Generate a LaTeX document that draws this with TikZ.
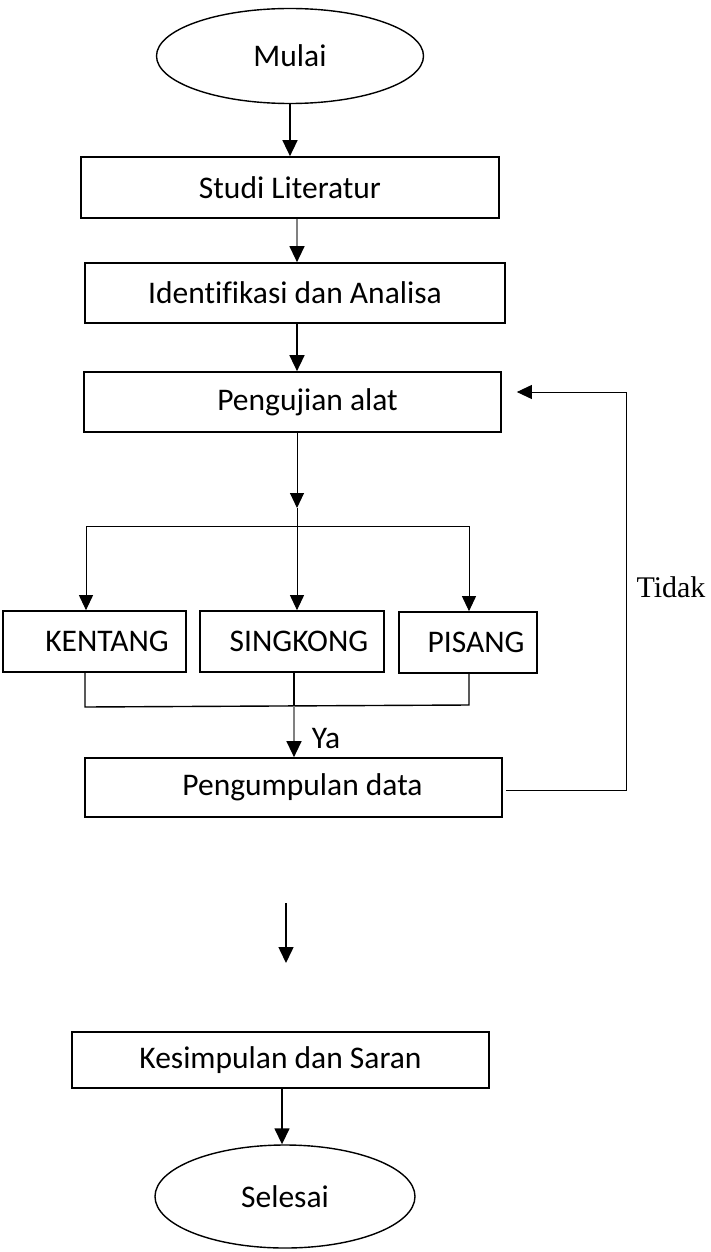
\documentclass[tikz,border=0pt]{standalone}
\usepackage{fontspec}
\setmainfont{Carlito}[Ligatures=NoCommon]
\newfontfamily\seriffont{Liberation Serif}
\usetikzlibrary{shapes.geometric,arrows.meta}

\begin{document}
\begin{tikzpicture}[x=1pt,y=-1pt,
        font=\fontsize{31.5}{36}\selectfont,
        kotak/.style={draw,line width=1.7pt,rectangle,inner sep=0pt},
        oval/.style={draw,line width=1.4pt,ellipse,inner sep=0pt},
        panah/.style={line width=1.5pt,-{Triangle[length=16pt,width=15pt]}},
        panahabu/.style={line width=1.3pt,draw=gray,-{Triangle[length=16pt,width=15pt,color=black]}},
        tipis/.style={line width=1pt},
        panahtipis/.style={line width=1pt,-{Triangle[length=15pt,width=14pt]}}]
    \useasboundingbox (0,0) rectangle (710,1252);

    % Mulai
    \node[oval,minimum width=267pt,minimum height=95pt] (mulai) at (290,56) {Mulai};

    % Tahap
    \node[kotak,minimum width=418pt,minimum height=61pt] (studi) at (290,187.5) {Studi Literatur};
    \node[kotak,minimum width=420pt,minimum height=60pt] (identifikasi) at (295,293) {Identifikasi dan Analisa};
    \node[kotak,minimum width=417pt,minimum height=60pt] (pengujian) at (292.5,402) {\hspace*{30pt}Pengujian alat};

    \draw[panah] (mulai.south) -- (mulai.south |- studi.north);
    \draw[panahabu] ([xshift=7pt]studi.south) -- ([xshift=7pt]studi.south |- identifikasi.north);
    \draw[panah] ([xshift=2pt]identifikasi.south) -- ([xshift=2pt]identifikasi.south |- pengujian.north);

    % Cabang
    \node[kotak,minimum width=183pt,minimum height=61pt] (kentang) at (94.5,641.5) {\hspace*{25pt}KENTANG};
    \node[kotak,minimum width=184pt,minimum height=61pt] (singkong) at (292,641.5) {\hspace*{14pt}SINGKONG};
    \node[kotak,minimum width=138pt,minimum height=61pt] (pisang) at (468,642.5) {\hspace*{16pt}\raisebox{-6pt}{PISANG}};

    \coordinate (ujung) at (297,508);
    \coordinate (cabang) at (297,526);
    \coordinate (cabangL) at (86,526);
    \coordinate (cabangR) at (469,526);
    \draw[panahtipis] (pengujian.south -| ujung) -- (ujung);
    \draw[tipis] (ujung) -- (cabang);
    \draw[tipis] (cabangL) -- (cabangR);
    \draw[panahtipis] (cabangL) -- (cabangL |- kentang.north);
    \draw[panahtipis] (cabang) -- (cabang |- singkong.north);
    \draw[panahtipis] (cabangR) -- (cabangR |- pisang.north);

    % Gabung
    \coordinate (gabungL) at (85,707);
    \coordinate (gabung) at (294,706);
    \coordinate (gabungR) at (469,705);
    \draw[line width=1.4pt] (gabungL |- kentang.south) -- (gabungL) -- (gabungR) -- (gabungR |- pisang.south);
    \draw[line width=1.4pt] (gabung |- singkong.south) -- (gabung);

    \node[kotak,minimum width=417pt,minimum height=59pt] (pengumpulan) at (293.5,787.5) {\hspace*{18pt}Pengumpulan data};
    \draw[panahabu] (gabung) -- (gabung |- pengumpulan.north);
    \node (ya) at (326,739) {Ya};

    % Tidak
    \coordinate (balikB) at (626,790);
    \coordinate (balikT) at (626,392);
    \draw[panahtipis] ([xshift=3pt]pengumpulan.east |- balikB) -- (balikB) -- (balikT) -- ([xshift=15pt]pengujian.east |- balikT);
    \node[font=\seriffont\fontsize{30}{36}\selectfont] (tidak) at (671,587) {Tidak};

    % Panah lepas
    \coordinate (lepasA) at (286,903);
    \coordinate (lepasB) at (286,963);
    \draw[panah] (lepasA) -- (lepasB);

    % Selesai
    \node[kotak,minimum width=417pt,minimum height=56pt] (kesimpulan) at (280.5,1060) {Kesimpulan dan Saran};
    \node[oval,minimum width=260pt,minimum height=103pt] (selesai) at (285,1196.5) {Selesai};
    \draw[panah] ([xshift=1.5pt]kesimpulan.south) -- ([xshift=1.5pt]kesimpulan.south |- selesai.north);
\end{tikzpicture}
\end{document}
